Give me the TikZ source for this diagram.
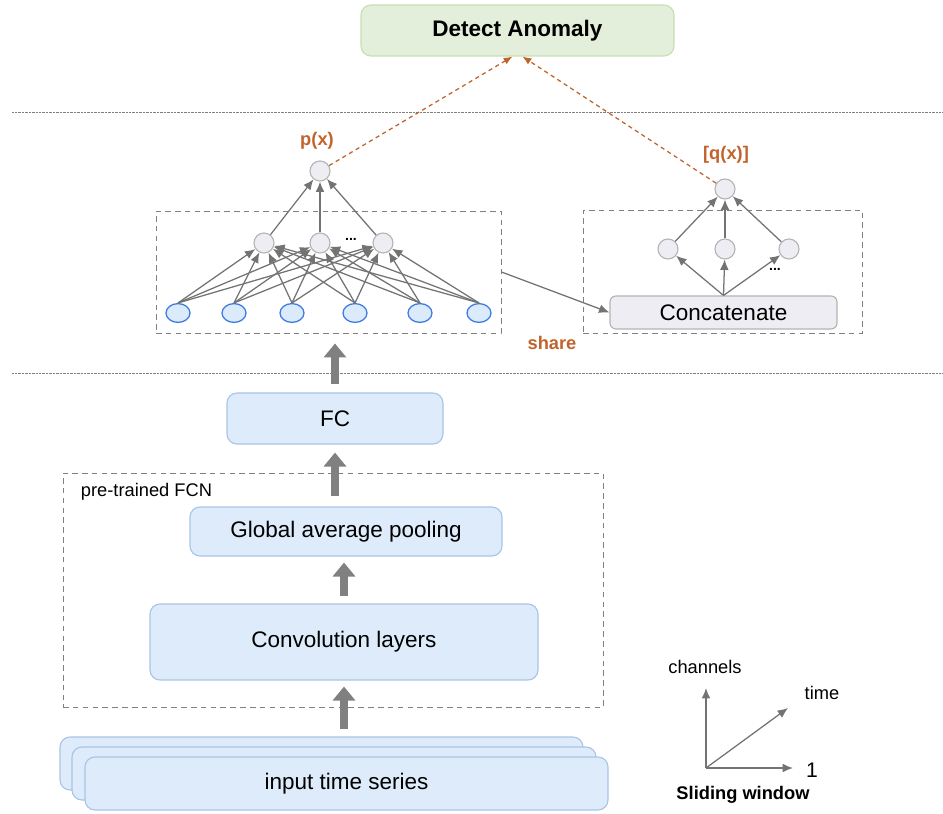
\documentclass[tikz,border=0pt]{standalone}
\usepackage{fontspec}
\setmainfont{Liberation Sans}
\usetikzlibrary{arrows.meta, shapes.geometric, positioning, fit}

\definecolor{boxblue}{HTML}{DDEBFA}
\definecolor{boxline}{HTML}{A9C4E6}
\definecolor{dagreen}{HTML}{E3EFDA}
\definecolor{daline}{HTML}{C6DEB5}
\definecolor{rust}{HTML}{C0642C}
\definecolor{neuron}{HTML}{EEEDF3}
\definecolor{neuronline}{HTML}{B4B4B4}
\definecolor{inblue}{HTML}{DCEBFB}
\definecolor{inedge}{HTML}{3D7BE0}
\definecolor{linkgray}{HTML}{808080}

\begin{document}
\begin{tikzpicture}[x=0.025cm, y=-0.025cm,
    layer/.style={draw=boxline, fill=boxblue, line width=0.8pt, rounded corners=2.5mm, inner sep=0pt},
    dabox/.style={draw=daline, fill=dagreen, line width=0.8pt, rounded corners=2.5mm, inner sep=0pt},
    catbox/.style={draw=neuronline, fill=neuron, line width=0.8pt, rounded corners=1.5mm, inner sep=0pt},
    txt/.style={font=\fontsize{16}{19}\selectfont, inner sep=0pt},
    dbox/.style={draw=linkgray, line width=0.7pt, dash pattern=on 4pt off 3pt, inner sep=0pt},
    neu/.style={circle, draw=neuronline, fill=neuron, line width=0.8pt, minimum size=5mm, inner sep=0pt},
    inn/.style={ellipse, draw=inedge, fill=inblue, line width=0.9pt, minimum width=6mm, minimum height=4.7mm, inner sep=0pt},
    link/.style={draw=linkgray!90!black, line width=0.9pt, -{Latex[length=2.6mm, width=2.2mm]}},
    fat/.style={draw=linkgray, line width=2mm, -{Triangle[length=3.5mm, width=5.5mm]}},
    score/.style={draw=rust, line width=0.9pt, dash pattern=on 3pt off 2.5pt, -{Latex[length=2.2mm, width=1.8mm]}},
    tag/.style={text=rust, font=\fontsize{13}{15}\selectfont\bfseries},
    sep/.style={draw=gray, line width=0.6pt, dash pattern=on 0.5pt off 0.5pt},
    dots/.style={font=\fontsize{10}{10}\selectfont\bfseries, inner sep=0pt}
  ]
  \useasboundingbox (0,0) rectangle (943,814);

  % anomaly score
  \node[dabox, fit={(361,5) (674,56)}] (da) {};
  \node[txt, font=\fontsize{16}{19}\selectfont\bfseries] (datext) at (da.center) {Detect Anomaly};
  \draw[sep] (12,112) -- (943,112);
  \draw[sep] (12,373) -- (943,373);

  % shared network
  \node[dbox, fit={(156,211) (501,333)}] (mlp) {};
  \foreach \x [count=\i] in {178,234,292,355,420,479}
    \node[inn] (i\i) at (\x,313) {};
  \foreach \x [count=\j] in {264,320,383}
    \node[neu] (h\j) at (\x,243) {};
  \node[neu] (p) at (320,171) {};
  \node[dots] (hdots) at (351,239) {...};
  \foreach \i in {1,...,6}
    \foreach \j in {1,2,3}
      \draw[link] (i\i.north) -- (h\j);
  \foreach \j in {1,2,3}
    \draw[link] (h\j) -- (p);
  \node[tag] (px) at (317,141) {p(x)};

  % concatenation head
  \node[dbox, fit={(583,210) (862,333)}] (head) {};
  \node[catbox, fit={(610,296) (837,329)}] (cat) {};
  \node[txt] (cattext) at (cat.center) {Concatenate};
  \foreach \x [count=\j] in {668,725,789}
    \node[neu] (g\j) at (\x,249) {};
  \node[neu] (q) at (725,189) {};
  \node[dots] (gdots) at (775,269) {...};
  \foreach \j in {1,2,3} {
    \draw[link] (cat.north) -- (g\j);
    \draw[link] (g\j) -- (q);
  }
  \node[tag] (qx) at (726,155) {[q(x)]};
  \draw[link] (mlp.east) -- (cat.west);
  \node[tag] (share) at (552,343) {share};

  \draw[score] (p) -- ([xshift=-1.25mm]da.south);
  \draw[score] (q) -- ([xshift=1.25mm]da.south);

  % feature extractor
  \node[layer, fit={(227,393) (443,444)}] (fc) {};
  \node[txt] (fctext) at (fc.center) {FC};
  \node[dbox, fit={(63,473) (603,707)}] (fcn) {};
  \node[anchor=west, font=\fontsize{13}{15}\selectfont] (fcnlabel) at (76,492) {pre-trained FCN};
  \node[layer, fit={(190,507) (502,556)}] (gap) {};
  \node[txt] (gaptext) at (gap.center) {Global average pooling};
  \node[layer, fit={(150,604) (538,680)}] (conv) {};
  \node[txt] (convtext) at (conv.center) {Convolution layers};
  \node[layer, fit={(60,737) (583,790)}] (in3) {};
  \node[layer, fit={(72,747) (596,800)}] (in2) {};
  \node[layer, fit={(85,757) (608,810)}] (in1) {};
  \node[txt] (intext) at (in1.center) {input time series};

  \draw[fat, shorten <=2mm, shorten >=2.5mm] (fc.north) -- (fc.north |- mlp.south);
  \draw[fat, shorten <=2.5mm, shorten >=2mm] (fc.south |- gap.north) -- (fc.south);
  \draw[fat, shorten <=1.75mm, shorten >=1.5mm] (conv.north) -- (conv.north |- gap.south);
  \draw[fat, shorten <=1.75mm, shorten >=1.5mm] (in3.north -| conv.south) -- (conv.south);

  % sliding window axes
  \coordinate (o) at (706,768);
  \coordinate (chan) at (706,688);
  \coordinate (tim) at (788,708);
  \coordinate (one) at (793,768);
  \draw[link] (o) -- (chan);
  \draw[link] (o) -- (tim);
  \draw[link] (o) -- (one);
  \node[font=\fontsize{13}{15}\selectfont] (chanlabel) at (705,667) {channels};
  \node[font=\fontsize{13}{15}\selectfont] (timlabel) at (822,693) {time};
  \node[font=\fontsize{15}{17}\selectfont] (onelabel) at (812,770) {1};
  \node[font=\fontsize{13}{15}\selectfont\bfseries] (swlabel) at (743,795) {Sliding window};
\end{tikzpicture}
\end{document}
